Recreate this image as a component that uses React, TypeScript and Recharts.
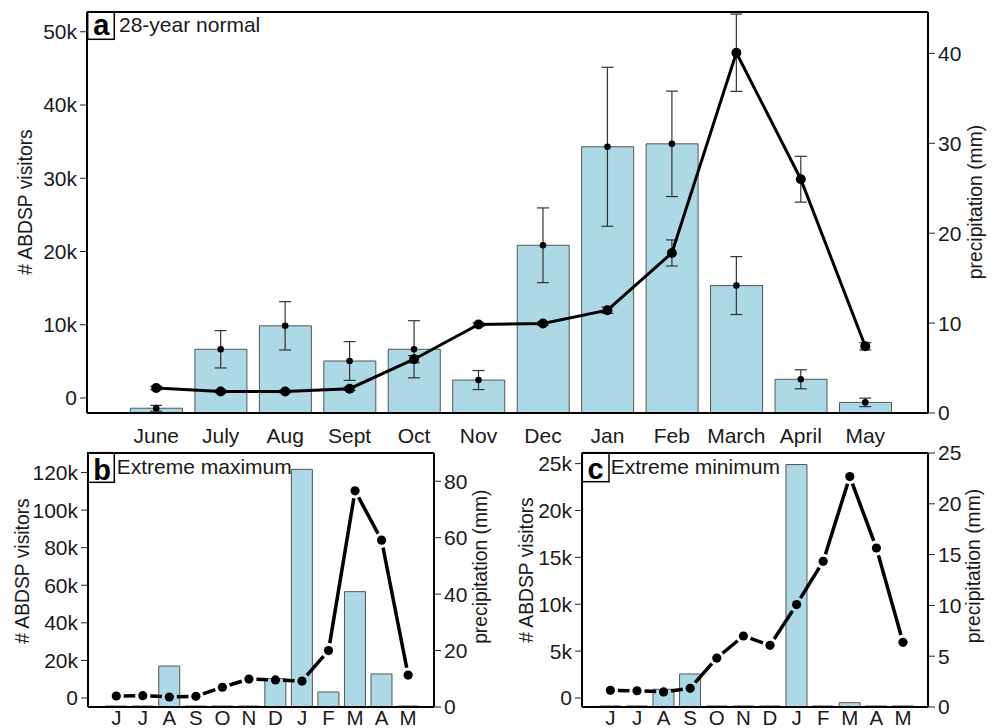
import React from 'react';
import { ComposedChart, Bar, Line, Scatter, XAxis, YAxis, ErrorBar, Customized } from 'recharts';

// ---------- data ----------
const monthsA = ['June', 'July', 'Aug', 'Sept', 'Oct', 'Nov', 'Dec', 'Jan', 'Feb', 'March', 'April', 'May'];
const visitorsA = [-1400, 6650, 9850, 5050, 6650, 2450, 20850, 34300, 34700, 15350, 2550, -600];
const visitorsErrA = [400, 2550, 3300, 2650, 3900, 1300, 5100, 10850, 7200, 3950, 1300, 580];
const precipA = [2.78, 2.4, 2.4, 2.7, 5.98, 9.84, 9.95, 11.43, 17.8, 40.07, 26.0, 7.42];
const precipErrA = [0.2, 0.15, 0.15, 0.2, 0.4, 0.2, 0.2, 0.35, 1.45, 4.3, 2.55, 0.4];

const monthsShort = ['J', 'J', 'A', 'S', 'O', 'N', 'D', 'J', 'F', 'M', 'A', 'M'];
const visitorsB = [-4300, -4300, 17000, -4300, -4300, -4300, 10300, 121700, 3200, 56600, 12800, -4300];
const precipB = [3.9, 4.0, 3.55, 3.8, 7.0, 9.9, 9.6, 9.2, 20.0, 76.6, 59.1, 11.3];
const visitorsC = [-850, -850, 930, 2560, -850, -850, -850, 24900, -850, -500, -850, -850];
const precipC = [1.64, 1.6, 1.48, 1.84, 4.82, 6.99, 6.07, 10.08, 14.34, 22.68, 15.65, 6.37];

const ticksVisA = [0, 10000, 20000, 30000, 40000, 50000];
const ticksPrecipA = [0, 10, 20, 30, 40];
const ticksVisB = [0, 20000, 40000, 60000, 80000, 100000, 120000];
const ticksPrecipB = [0, 20, 40, 60, 80];
const ticksVisC = [0, 5000, 10000, 15000, 20000, 25000];
const ticksPrecipC = [0, 5, 10, 15, 20, 25];

const VIS_A: [number, number] = [-2050, 52700];
const PRE_A: [number, number] = [0, 44.6];
const VIS_B: [number, number] = [-4800, 130400];
const PRE_B: [number, number] = [0, 90];
const VIS_C: [number, number] = [-960, 26130];
const PRE_C: [number, number] = [0, 25];

const tableA = monthsA.map((m, i) => ({
  month: m,
  visRange: [VIS_A[0], visitorsA[i]],
  visitors: visitorsA[i],
  visErr: visitorsErrA[i],
  precip: precipA[i],
  precipErr: precipErrA[i],
}));
const tableB = monthsShort.map((m, i) => ({
  key: `${m}${i}`,
  month: m,
  visRange: [VIS_B[0], visitorsB[i]],
  precip: precipB[i],
}));
const tableC = monthsShort.map((m, i) => ({
  key: `${m}${i}`,
  month: m,
  visRange: [VIS_C[0], visitorsC[i]],
  precip: precipC[i],
}));

// ---------- styles ----------
const FONT = '"Liberation Sans", Arial, Helvetica, sans-serif';
const TXT = '#1a1a1a';
const BAR_FILL = '#ADD8E6';
const BAR_STROKE = '#555555';
const ERR = '#333333';
const AXIS_LINE = { stroke: '#000', strokeWidth: 2 };
const TICK_LINE = { stroke: '#222', strokeWidth: 1 };
const TICK = { fill: TXT, fontSize: 21, fontFamily: FONT };

const kfmt = (v: number) => (v === 0 ? '0' : `${v / 1000}k`);

const VTitle = ({ x, y, text }: { x: number; y: number; text: string }) => (
  <text
    x={x}
    y={y}
    transform={`rotate(-90 ${x} ${y})`}
    textAnchor="middle"
    dominantBaseline="central"
    fontSize={19.3}
    fontFamily={FONT}
    fill={TXT}
  >
    {text}
  </text>
);

const PanelTag = ({ bx, by, bw, bh, letter, lx, lb, title, tx, tb }: any) => (
  <g>
    <rect x={bx} y={by} width={bw} height={bh} fill="#fff" stroke="#000" strokeWidth={1.5} />
    <text x={lx} y={lb} textAnchor="middle" fontSize={29} fontWeight="bold" fontFamily={FONT} fill="#000">
      {letter}
    </text>
    <text x={tx} y={tb} fontSize={21} fontFamily={FONT} fill={TXT}>
      {title}
    </text>
  </g>
);

const SmallDot = (p: any) => <circle cx={p.cx} cy={p.cy} r={3.3} fill="#000" />;

// line with gaps around points (R type "b")
const GapDot = (props: any) => {
  const { cx, cy, index, points } = props;
  const next = points && points[index + 1];
  let seg: any = null;
  if (next && next.x != null && next.y != null) {
    const dx = next.x - cx;
    const dy = next.y - cy;
    const len = Math.hypot(dx, dy);
    const g = 7.5;
    if (len > 2 * g) {
      seg = (
        <line
          x1={cx + (dx / len) * g}
          y1={cy + (dy / len) * g}
          x2={next.x - (dx / len) * g}
          y2={next.y - (dy / len) * g}
          stroke="#000"
          strokeWidth={3.5}
        />
      );
    }
  }
  return (
    <g key={`gd-${index}`}>
      {seg}
      <circle cx={cx} cy={cy} r={4.6} fill="#000" />
    </g>
  );
};

function PanelA() {
  return (
    <div style={{ position: 'absolute', left: 0, top: 0 }}>
      <ComposedChart width={993} height={450} data={tableA} margin={{ top: 10, right: 0, bottom: 0, left: 0 }}>
        <XAxis
          xAxisId="top"
          orientation="top"
          dataKey="month"
          height={2}
          tick={false}
          tickLine={false}
          axisLine={AXIS_LINE}
          padding={{ left: 37, right: 30.5 }}
        />
        <XAxis
          dataKey="month"
          height={37}
          interval={0}
          tickLine={false}
          tickSize={0}
          tickMargin={15}
          tick={TICK}
          axisLine={AXIS_LINE}
          padding={{ left: 37, right: 30.5 }}
        />
        <YAxis
          yAxisId="left"
          width={87}
          type="number"
          domain={VIS_A}
          allowDataOverflow
          ticks={ticksVisA}
          interval={0}
          tickFormatter={kfmt}
          tick={TICK}
          tickLine={TICK_LINE}
          tickSize={7}
          tickMargin={3}
          axisLine={AXIS_LINE}
          label={{ content: () => <VTitle x={25} y={202} text="# ABDSP visitors" /> }}
        />
        <YAxis
          yAxisId="right"
          orientation="right"
          width={65}
          type="number"
          domain={PRE_A}
          allowDataOverflow
          ticks={ticksPrecipA}
          interval={0}
          tick={TICK}
          tickLine={TICK_LINE}
          tickSize={7}
          tickMargin={3}
          axisLine={AXIS_LINE}
          label={{ content: () => <VTitle x={975.5} y={202} text="precipitation (mm)" /> }}
        />
        <Bar
          yAxisId="left"
          dataKey="visRange"
          fill={BAR_FILL}
          stroke={BAR_STROKE}
          strokeWidth={1}
          barCategoryGap="8%"
          isAnimationActive={false}
        />
        <Scatter yAxisId="left" dataKey="visitors" shape={SmallDot} isAnimationActive={false}>
          <ErrorBar dataKey="visErr" direction="y" width={6} stroke={ERR} strokeWidth={1.2} />
        </Scatter>
        <Line
          yAxisId="right"
          type="linear"
          dataKey="precip"
          stroke="#000"
          strokeWidth={3}
          dot={{ r: 5, fill: '#000', stroke: 'none' }}
          isAnimationActive={false}
        >
          <ErrorBar dataKey="precipErr" direction="y" width={6} stroke={ERR} strokeWidth={1.2} />
        </Line>
        <Customized
          component={
            <PanelTag bx={87.7} by={11.7} bw={26.6} bh={27.6} letter="a" lx={101.3} lb={35} title="28-year normal" tx={119} tb={32.3} />
          }
        />
      </ComposedChart>
    </div>
  );
}

function SmallPanel({
  data, left, width, yLeftW, yRightW, padL, padR, visDomain, visTicks, preDomain, preTicks,
  letter, title, tag, titles,
}: any) {
  return (
    <div style={{ position: 'absolute', left, top: 440 }}>
      <ComposedChart width={width} height={288} data={data} margin={{ top: 11, right: 0, bottom: 0, left: 0 }}>
        <XAxis
          xAxisId="top"
          orientation="top"
          dataKey="key"
          height={2}
          tick={false}
          tickLine={false}
          axisLine={AXIS_LINE}
          padding={{ left: padL, right: padR }}
        />
        <XAxis
          dataKey="key"
          height={21}
          interval={0}
          tickLine={false}
          tickSize={0}
          tickMargin={3}
          tick={{ ...TICK, fontSize: 20.5 }}
          tickFormatter={(v: string) => v.replace(/\d+$/, '')}
          axisLine={AXIS_LINE}
          padding={{ left: padL, right: padR }}
        />
        <YAxis
          yAxisId="left"
          width={yLeftW}
          type="number"
          domain={visDomain}
          allowDataOverflow
          ticks={visTicks}
          interval={0}
          tickFormatter={kfmt}
          tick={TICK}
          tickLine={TICK_LINE}
          tickSize={7}
          tickMargin={3}
          axisLine={AXIS_LINE}
          label={{ content: () => <VTitle x={titles[0]} y={titles[1]} text="# ABDSP visitors" /> }}
        />
        <YAxis
          yAxisId="right"
          orientation="right"
          width={yRightW}
          type="number"
          domain={preDomain}
          allowDataOverflow
          ticks={preTicks}
          interval={0}
          tick={TICK}
          tickLine={TICK_LINE}
          tickSize={7}
          tickMargin={3}
          axisLine={AXIS_LINE}
          label={{ content: () => <VTitle x={titles[2]} y={titles[3]} text="precipitation (mm)" /> }}
        />
        <Bar
          yAxisId="left"
          dataKey="visRange"
          fill={BAR_FILL}
          stroke={BAR_STROKE}
          strokeWidth={1}
          barCategoryGap="8%"
          isAnimationActive={false}
        />
        <Line
          yAxisId="right"
          type="linear"
          dataKey="precip"
          stroke="none"
          dot={GapDot}
          activeDot={false}
          isAnimationActive={false}
        />
        <Customized component={<PanelTag {...tag} letter={letter} title={title} />} />
      </ComposedChart>
    </div>
  );
}

export default function App() {
  return (
    <div
      style={{
        position: 'absolute',
        left: 0,
        top: 0,
        width: 993,
        height: 728,
        background: '#fff',
        fontFamily: FONT,
        overflow: 'hidden',
      }}
    >
      <PanelA />
      <SmallPanel
        data={tableB}
        left={0}
        width={500}
        yLeftW={88}
        yRightW={66}
        padL={15}
        padR={12.6}
        visDomain={VIS_B}
        visTicks={ticksVisB}
        preDomain={PRE_B}
        preTicks={ticksPrecipB}
        letter="b"
        title="Extreme maximum"
        tag={{ bx: 87.7, by: 12.7, bw: 26.6, bh: 29.6, lx: 102, lb: 40, tx: 116.7, tb: 34.3 }}
        titles={[22.5, 131, 480.3, 126.7]}
      />
      <SmallPanel
        data={tableC}
        left={490}
        width={503}
        yLeftW={92}
        yRightW={65}
        padL={15.1}
        padR={11.7}
        visDomain={VIS_C}
        visTicks={ticksVisC}
        preDomain={PRE_C}
        preTicks={ticksPrecipC}
        letter="c"
        title="Extreme minimum"
        tag={{ bx: 92.3, by: 12.7, bw: 26.7, bh: 29, lx: 105.5, lb: 39.3, tx: 120.7, tb: 34.3 }}
        titles={[36.5, 130, 483.7, 126]}
      />
    </div>
  );
}
